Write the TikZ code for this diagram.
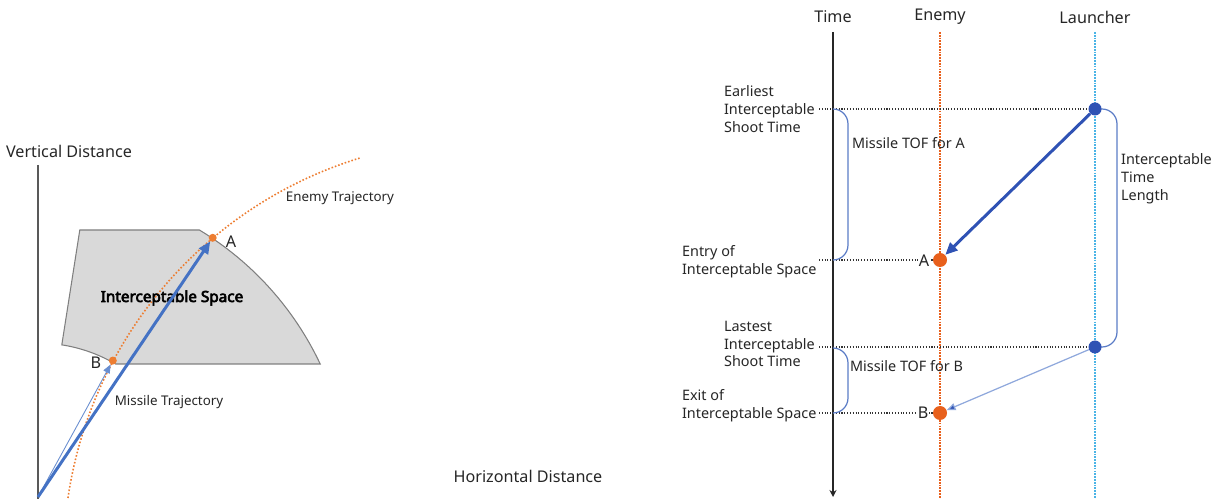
\documentclass[tikz,border=0pt]{standalone}
\usepackage{fontspec}
\setmainfont{Noto Sans}[AutoFakeBold=4]
\usetikzlibrary{arrows.meta}
\definecolor{enemyorange}{HTML}{ED7D31}
\definecolor{dotorange}{HTML}{E8601C}
\definecolor{missileblue}{HTML}{4472C4}
\definecolor{shotblue}{HTML}{2F52B4}
\definecolor{shotlight}{HTML}{8FA8DC}
\definecolor{launchblue}{HTML}{4BB4E6}
\definecolor{spacegray}{HTML}{D9D9D9}
\definecolor{edgegray}{HTML}{7F7F7F}
\definecolor{bracketblue}{HTML}{5B7CC6}
\tikzset{
  txt/.style={font=\fontsize{9.2}{11}\selectfont, inner sep=1pt, text=black!85},
  smalltxt/.style={font=\fontsize{7.6}{9}\selectfont, inner sep=1pt, text=black!85},
  sidetxt/.style={font=\fontsize{8.2}{10.2}\selectfont, inner sep=1pt, align=left, anchor=west, text=black!85},
  odot/.style={circle, fill=enemyorange, inner sep=0pt, minimum size=0.16cm},
  bigodot/.style={circle, fill=dotorange, inner sep=0pt, minimum size=0.28cm},
  bdot/.style={circle, fill=shotblue, inner sep=0pt, minimum size=0.26cm},
  missile/.style={missileblue, line width=1.7pt, -{Triangle[length=7pt,width=6pt]}},
  missilethin/.style={missileblue!80, line width=0.5pt, -{Triangle[length=5pt,width=4pt]}},
  shot/.style={shotblue, line width=1.7pt, -{Triangle[length=7pt,width=6pt]}},
  shotthin/.style={shotlight, line width=0.7pt, -{Triangle[length=5pt,width=4pt,fill=shotblue]}},
  guide/.style={black!80, densely dotted, line width=0.6pt},
  bracket/.style={bracketblue, line width=0.7pt, rounded corners=0.3cm},
  trajline/.style={enemyorange, line width=0.9pt, dash pattern=on 0.9pt off 1.1pt},
  enemyline/.style={dotorange, line width=1.1pt, dash pattern=on 1pt off 0.6pt},
  launchline/.style={launchblue, line width=1.1pt, dash pattern=on 1pt off 0.6pt}
}
\begin{document}
\begin{tikzpicture}[x=0.02cm,y=-0.02cm]
\useasboundingbox (0,0) rectangle (1218,499);

% left: interceptable space seen from the launcher
\draw[edgegray, fill=spacegray, line width=0.6pt] (79.8,230) -- (199.4,230)
  arc[start angle=58.85, end angle=25.23, radius=6.24cm] -- (115.6,364)
  arc[start angle=59.73, end angle=81.1, radius=3.08cm] -- cycle;
\draw[black!65, line width=0.6pt] (38,165) -- (38,499);
\node[txt] (vdist) at (69,151) {Vertical Distance};
\node[txt] (hdist) at (528,476) {Horizontal Distance};
\draw[trajline] (67.96,498)
  arc[start angle=171.64, end angle=107.05, radius=8.39cm];
\node[font=\bfseries\fontsize{8.7}{10}\selectfont] (space) at (172,298) {Interceptable Space};
\node[smalltxt] (etraj) at (340,198) {Enemy Trajectory};
\node[smalltxt] (mtraj) at (169,402) {Missile Trajectory};
\coordinate (O) at (38,497);
\node[odot] (A) at (212.7,237.8) {};
\node[odot] (B) at (112.8,360.6) {};
\node[txt] (alab) at (231,242) {A};
\node[txt] (blab) at (96,363) {B};
\draw[missilethin] (O) -- (B);
\draw[missile] (O) -- (A);

% right: time line
\coordinate (ttop) at (833,32);
\coordinate (tbot) at (833,497);
\coordinate (etop) at (940,32);
\coordinate (ebot) at (940,499);
\coordinate (ltop) at (1095,32);
\coordinate (lbot) at (1095,499);
\node[txt] (time) at (833,17) {Time};
\node[txt] (enemy) at (940,17) {Enemy};
\node[txt] (launcher) at (1095,17) {Launcher};
\draw[enemyline] (etop) -- (ebot);
\draw[launchline] (ltop) -- (lbot);
\draw[black!85, line width=0.8pt, -{Stealth[length=4pt,width=4pt]}] (ttop) -- (tbot);

\coordinate (l1) at (1095,109);
\coordinate (l2) at (1095,347);
\coordinate (ea) at (940,260);
\coordinate (eb) at (940,413);
\coordinate (g1) at (819,109);
\coordinate (g2) at (819,260);
\coordinate (g3) at (819,347);
\coordinate (g4) at (819,413);
\draw[guide] (g1) -- (l1);
\draw[guide] (g2) -- (ea);
\draw[guide] (g3) -- (l2);
\draw[guide] (g4) -- (eb);

\draw[bracket] (833,109) -- (848,109) -- (848,260) -- (833,260);
\draw[bracket] (833,348) -- (848,348) -- (848,413) -- (833,413);
\draw[bracket] (l1) -- (1117,109) -- (1117,347) -- (l2);

\node[bigodot] (EA) at (ea) {};
\node[bigodot] (EB) at (eb) {};
\node[bdot] (L1) at (l1) {};
\node[bdot] (L2) at (l2) {};
\draw[shot] (L1) -- (EA);
\draw[shotthin] (L2) -- (EB);
\node[txt, fill=white, inner sep=0.5pt] (alab2) at (924,261) {A};
\node[txt, fill=white, inner sep=0.5pt] (blab2) at (923,413) {B};

\node[sidetxt] (earliest) at (722,109) {Earliest\\Interceptable\\Shoot Time};
\node[sidetxt] (entry) at (680,262) {Entry of\\Interceptable Space};
\node[sidetxt] (lastest) at (722,344) {Lastest\\Interceptable\\Shoot Time};
\node[sidetxt] (exit) at (680,406) {Exit of\\Interceptable Space};
\node[sidetxt] (tofa) at (850,143) {Missile TOF for A};
\node[sidetxt] (tofb) at (848,366) {Missile TOF for B};
\node[sidetxt] (itl) at (1119,179) {Interceptable\\Time\\Length};
\end{tikzpicture}
\end{document}
